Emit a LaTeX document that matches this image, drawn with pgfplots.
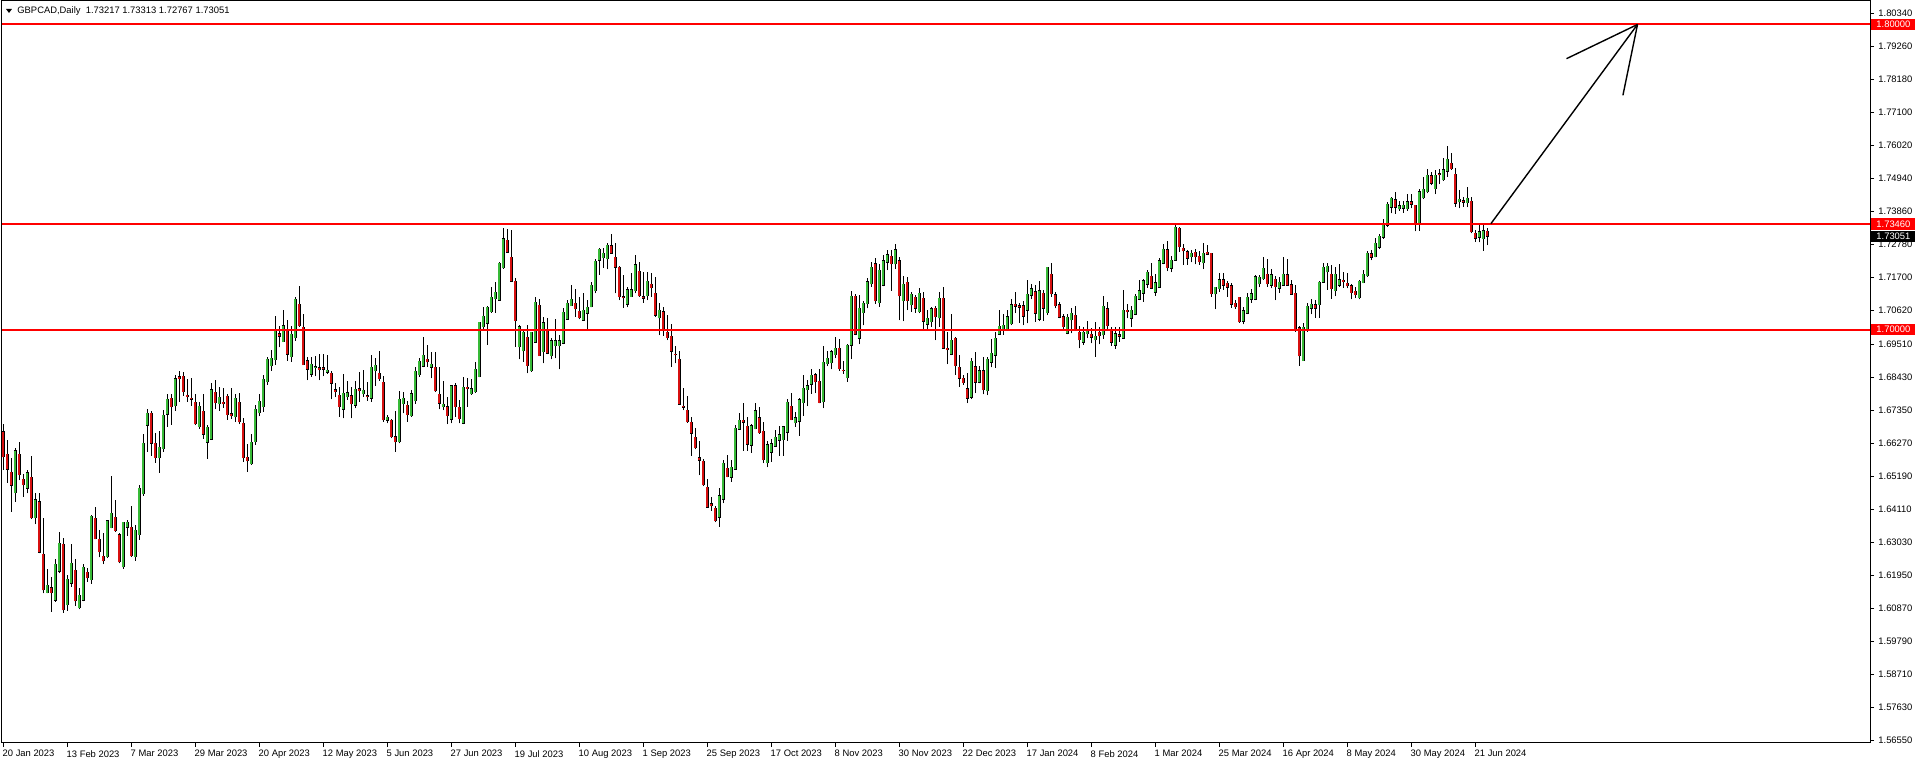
\documentclass[border=0pt]{standalone}
\usepackage{fontspec}
\setmainfont{Liberation Sans}
\usepackage{pgfplots}
\usepackage{pgfplotstable}
\pgfplotsset{compat=1.18}

\definecolor{upg}{RGB}{56,186,56}
\definecolor{dnr}{RGB}{215,16,16}
\newcommand\mtf{\fontsize{4.7}{5.5}\selectfont}
\pgfplotsset{nomark/.style={only marks, mark=none, mark size=0pt, mark options={draw=none, fill=none}}}

% daily candles, GBPCAD, index 0 = 20 Jan 2023
\pgfplotstableread{
i o h l c
0 1.6666 1.6691 1.6541 1.6584
1 1.6593 1.6639 1.6499 1.6543
2 1.6534 1.6579 1.6404 1.6491
3 1.6467 1.6612 1.6437 1.6603
4 1.6593 1.6631 1.6508 1.6526
5 1.6511 1.6528 1.6454 1.6493
6 1.6481 1.6541 1.6464 1.6531
7 1.6517 1.6587 1.6380 1.6384
8 1.6385 1.6464 1.6364 1.6443
9 1.6436 1.6464 1.6268 1.6272
10 1.6265 1.6383 1.6137 1.6148
11 1.6139 1.6216 1.6137 1.6163
12 1.6156 1.6190 1.6077 1.6139
13 1.6115 1.6248 1.6110 1.6232
14 1.6210 1.6339 1.6203 1.6301
15 1.6298 1.6317 1.6074 1.6083
16 1.6100 1.6197 1.6080 1.6183
17 1.6170 1.6298 1.6159 1.6235
18 1.6212 1.6248 1.6096 1.6112
19 1.6090 1.6154 1.6085 1.6131
20 1.6114 1.6233 1.6111 1.6222
21 1.6206 1.6219 1.6175 1.6188
22 1.6182 1.6394 1.6168 1.6389
23 1.6383 1.6419 1.6314 1.6315
24 1.6314 1.6344 1.6255 1.6274
25 1.6258 1.6334 1.6233 1.6243
26 1.6257 1.6377 1.6252 1.6374
27 1.6352 1.6521 1.6350 1.6399
28 1.6386 1.6443 1.6339 1.6342
29 1.6328 1.6336 1.6235 1.6240
30 1.6224 1.6372 1.6217 1.6369
31 1.6353 1.6377 1.6325 1.6369
32 1.6353 1.6423 1.6257 1.6260
33 1.6257 1.6361 1.6243 1.6344
34 1.6329 1.6492 1.6312 1.6481
35 1.6463 1.6657 1.6457 1.6628
36 1.6687 1.6740 1.6601 1.6726
37 1.6726 1.6734 1.6587 1.6628
38 1.6628 1.6661 1.6565 1.6581
39 1.6581 1.6668 1.6532 1.6615
40 1.6611 1.6737 1.6601 1.6720
41 1.6723 1.6788 1.6683 1.6772
42 1.6775 1.6788 1.6689 1.6748
43 1.6751 1.6852 1.6734 1.6839
44 1.6846 1.6865 1.6764 1.6840
45 1.6847 1.6860 1.6784 1.6797
46 1.6786 1.6839 1.6764 1.6781
47 1.6776 1.6842 1.6751 1.6772
48 1.6762 1.6788 1.6688 1.6692
49 1.6683 1.6763 1.6676 1.6749
50 1.6733 1.6788 1.6643 1.6658
51 1.6631 1.6689 1.6577 1.6680
52 1.6642 1.6827 1.6639 1.6803
53 1.6795 1.6835 1.6740 1.6761
54 1.6758 1.6813 1.6735 1.6779
55 1.6763 1.6809 1.6744 1.6758
56 1.6782 1.6788 1.6706 1.6722
57 1.6724 1.6809 1.6709 1.6718
58 1.6715 1.6788 1.6698 1.6775
59 1.6762 1.6793 1.6691 1.6698
60 1.6694 1.6710 1.6568 1.6581
61 1.6583 1.6626 1.6535 1.6571
62 1.6562 1.6659 1.6558 1.6631
63 1.6634 1.6752 1.6623 1.6739
64 1.6728 1.6788 1.6717 1.6766
65 1.6748 1.6851 1.6731 1.6838
66 1.6830 1.6911 1.6819 1.6903
67 1.6882 1.6934 1.6865 1.6906
68 1.6902 1.7045 1.6886 1.6997
69 1.6986 1.7012 1.6942 1.6979
70 1.6961 1.7063 1.6961 1.7013
71 1.6997 1.7031 1.6899 1.6919
72 1.6912 1.7011 1.6895 1.6985
73 1.6974 1.7107 1.6963 1.7099
74 1.7083 1.7143 1.7010 1.7013
75 1.7008 1.7051 1.6885 1.6886
76 1.6898 1.6910 1.6835 1.6870
77 1.6854 1.6910 1.6846 1.6887
78 1.6876 1.6914 1.6848 1.6878
79 1.6875 1.6920 1.6835 1.6869
80 1.6875 1.6919 1.6848 1.6871
81 1.6860 1.6917 1.6855 1.6868
82 1.6857 1.6865 1.6772 1.6824
83 1.6803 1.6824 1.6779 1.6797
84 1.6785 1.6811 1.6715 1.6748
85 1.6739 1.6855 1.6710 1.6792
86 1.6781 1.6831 1.6770 1.6793
87 1.6783 1.6814 1.6710 1.6757
88 1.6752 1.6832 1.6743 1.6805
89 1.6806 1.6862 1.6764 1.6800
90 1.6791 1.6869 1.6780 1.6802
91 1.6783 1.6830 1.6767 1.6781
92 1.6775 1.6917 1.6764 1.6877
93 1.6866 1.6906 1.6817 1.6883
94 1.6857 1.6930 1.6833 1.6840
95 1.6828 1.6848 1.6699 1.6705
96 1.6703 1.6720 1.6693 1.6714
97 1.6703 1.6709 1.6644 1.6650
98 1.6650 1.6733 1.6601 1.6633
99 1.6633 1.6799 1.6628 1.6772
100 1.6758 1.6797 1.6726 1.6776
101 1.6753 1.6767 1.6699 1.6722
102 1.6719 1.6801 1.6715 1.6790
103 1.6768 1.6877 1.6757 1.6864
104 1.6853 1.6908 1.6846 1.6897
105 1.6881 1.6976 1.6877 1.6916
106 1.6904 1.6949 1.6879 1.6895
107 1.6877 1.6926 1.6841 1.6887
108 1.6877 1.6928 1.6797 1.6800
109 1.6788 1.6877 1.6739 1.6759
110 1.6748 1.6832 1.6737 1.6756
111 1.6747 1.6781 1.6691 1.6719
112 1.6707 1.6819 1.6693 1.6816
113 1.6816 1.6824 1.6715 1.6748
114 1.6746 1.6770 1.6693 1.6708
115 1.6693 1.6846 1.6691 1.6811
116 1.6811 1.6841 1.6748 1.6807
117 1.6791 1.6837 1.6787 1.6806
118 1.6797 1.6895 1.6794 1.6870
119 1.6846 1.7026 1.6844 1.7025
120 1.7010 1.7073 1.6997 1.7044
121 1.7021 1.7078 1.6950 1.7073
122 1.7059 1.7141 1.7056 1.7106
123 1.7102 1.7157 1.7056 1.7123
124 1.7097 1.7223 1.7095 1.7217
125 1.7203 1.7332 1.7199 1.7297
126 1.7292 1.7328 1.7252 1.7253
127 1.7237 1.7326 1.7157 1.7159
128 1.7158 1.7169 1.6944 1.7030
129 1.6944 1.7014 1.6903 1.7010
130 1.6931 1.7003 1.6895 1.6991
131 1.6976 1.7014 1.6857 1.6882
132 1.6866 1.6994 1.6863 1.6991
133 1.6959 1.7106 1.6958 1.7090
134 1.7080 1.7102 1.6914 1.6915
135 1.6928 1.7042 1.6890 1.7023
136 1.6996 1.7039 1.6920 1.6923
137 1.6915 1.6972 1.6903 1.6964
138 1.6948 1.7034 1.6906 1.6964
139 1.6948 1.6982 1.6870 1.6964
140 1.6955 1.7070 1.6953 1.7057
141 1.7034 1.7097 1.7032 1.7086
142 1.7079 1.7145 1.7078 1.7100
143 1.7086 1.7133 1.7043 1.7068
144 1.7061 1.7106 1.7034 1.7039
145 1.7031 1.7121 1.7030 1.7064
146 1.7054 1.7097 1.6999 1.7073
147 1.7075 1.7156 1.7073 1.7145
148 1.7128 1.7231 1.7119 1.7224
149 1.7228 1.7266 1.7179 1.7263
150 1.7236 1.7266 1.7203 1.7250
151 1.7232 1.7283 1.7198 1.7276
152 1.7274 1.7312 1.7248 1.7250
153 1.7237 1.7285 1.7119 1.7204
154 1.7204 1.7208 1.7097 1.7108
155 1.7108 1.7179 1.7072 1.7105
156 1.7083 1.7141 1.7073 1.7130
157 1.7108 1.7187 1.7108 1.7130
158 1.7128 1.7244 1.7119 1.7212
159 1.7192 1.7222 1.7108 1.7111
160 1.7108 1.7188 1.7088 1.7103
161 1.7111 1.7188 1.7097 1.7159
162 1.7148 1.7187 1.7108 1.7138
163 1.7119 1.7172 1.7043 1.7047
164 1.7039 1.7088 1.6982 1.7064
165 1.7058 1.7075 1.6980 1.6999
166 1.6991 1.7048 1.6966 1.6974
167 1.6979 1.7019 1.6879 1.6929
168 1.6920 1.6947 1.6890 1.6918
169 1.6904 1.6931 1.6754 1.6756
170 1.6750 1.6809 1.6737 1.6746
171 1.6736 1.6783 1.6696 1.6699
172 1.6697 1.6713 1.6587 1.6661
173 1.6648 1.6677 1.6608 1.6614
174 1.6580 1.6636 1.6524 1.6572
175 1.6570 1.6576 1.6488 1.6493
176 1.6485 1.6512 1.6418 1.6419
177 1.6430 1.6451 1.6408 1.6423
178 1.6416 1.6423 1.6370 1.6375
179 1.6386 1.6483 1.6355 1.6456
180 1.6445 1.6574 1.6432 1.6563
181 1.6547 1.6589 1.6517 1.6519
182 1.6517 1.6574 1.6502 1.6550
183 1.6543 1.6688 1.6541 1.6678
184 1.6674 1.6728 1.6672 1.6703
185 1.6704 1.6760 1.6604 1.6697
186 1.6684 1.6715 1.6604 1.6625
187 1.6622 1.6691 1.6598 1.6686
188 1.6676 1.6759 1.6674 1.6734
189 1.6711 1.6747 1.6660 1.6663
190 1.6668 1.6697 1.6563 1.6575
191 1.6565 1.6637 1.6550 1.6623
192 1.6599 1.6641 1.6567 1.6626
193 1.6618 1.6673 1.6617 1.6648
194 1.6638 1.6685 1.6588 1.6656
195 1.6640 1.6686 1.6588 1.6682
196 1.6664 1.6773 1.6637 1.6763
197 1.6750 1.6794 1.6704 1.6706
198 1.6696 1.6730 1.6683 1.6711
199 1.6700 1.6775 1.6653 1.6770
200 1.6761 1.6852 1.6718 1.6809
201 1.6804 1.6835 1.6750 1.6816
202 1.6821 1.6870 1.6790 1.6851
203 1.6852 1.6857 1.6792 1.6829
204 1.6831 1.6870 1.6759 1.6761
205 1.6764 1.6945 1.6743 1.6894
206 1.6889 1.6929 1.6881 1.6907
207 1.6892 1.6934 1.6870 1.6927
208 1.6918 1.6975 1.6907 1.6939
209 1.6939 1.6968 1.6866 1.6872
210 1.6868 1.6899 1.6855 1.6866
211 1.6843 1.6952 1.6830 1.6949
212 1.6949 1.7128 1.6904 1.7109
213 1.7110 1.7117 1.6982 1.6985
214 1.6972 1.7114 1.6953 1.7070
215 1.7056 1.7095 1.7014 1.7086
216 1.7085 1.7170 1.7070 1.7157
217 1.7150 1.7222 1.7140 1.7205
218 1.7215 1.7235 1.7085 1.7095
219 1.7088 1.7215 1.7075 1.7195
220 1.7146 1.7245 1.7142 1.7225
221 1.7220 1.7262 1.7195 1.7245
222 1.7240 1.7260 1.7127 1.7215
223 1.7215 1.7282 1.7200 1.7262
224 1.7225 1.7239 1.7031 1.7111
225 1.7095 1.7177 1.7028 1.7148
226 1.7155 1.7174 1.7064 1.7095
227 1.7081 1.7124 1.7059 1.7116
228 1.7106 1.7114 1.7056 1.7070
229 1.7059 1.7138 1.7054 1.7119
230 1.7103 1.7124 1.7000 1.7028
231 1.7018 1.7064 1.7001 1.7037
232 1.7026 1.7075 1.7010 1.7068
233 1.7070 1.7077 1.6966 1.7043
234 1.7039 1.7124 1.7010 1.7103
235 1.7103 1.7141 1.6939 1.6939
236 1.6939 1.6991 1.6887 1.6935
237 1.6920 1.7050 1.6917 1.6965
238 1.6972 1.6977 1.6852 1.6882
239 1.6877 1.6917 1.6814 1.6841
240 1.6841 1.6852 1.6819 1.6827
241 1.6806 1.6857 1.6760 1.6775
242 1.6779 1.6906 1.6773 1.6896
243 1.6879 1.6926 1.6792 1.6828
244 1.6828 1.6882 1.6824 1.6865
245 1.6865 1.6910 1.6788 1.6804
246 1.6800 1.6911 1.6786 1.6904
247 1.6893 1.6968 1.6877 1.6923
248 1.6917 1.6994 1.6876 1.6972
249 1.6985 1.7064 1.6983 1.7011
250 1.6999 1.7050 1.6983 1.7015
251 1.7000 1.7064 1.6996 1.7042
252 1.7019 1.7100 1.7015 1.7081
253 1.7083 1.7122 1.7054 1.7077
254 1.7079 1.7086 1.7022 1.7074
255 1.7078 1.7094 1.7015 1.7044
256 1.7064 1.7163 1.7021 1.7116
257 1.7112 1.7148 1.7100 1.7134
258 1.7124 1.7146 1.7026 1.7054
259 1.7034 1.7159 1.7028 1.7127
260 1.7119 1.7130 1.7030 1.7070
261 1.7056 1.7206 1.7048 1.7204
262 1.7181 1.7217 1.7108 1.7117
263 1.7114 1.7122 1.7070 1.7079
264 1.7081 1.7090 1.7037 1.7040
265 1.7043 1.7051 1.6999 1.7010
266 1.6988 1.7051 1.6985 1.7040
267 1.7032 1.7070 1.6988 1.7054
268 1.7048 1.7079 1.6996 1.7000
269 1.6992 1.7012 1.6939 1.6967
270 1.6959 1.7010 1.6950 1.6992
271 1.6987 1.7028 1.6972 1.6996
272 1.6985 1.7004 1.6955 1.6975
273 1.6967 1.7024 1.6912 1.6978
274 1.6992 1.7010 1.6952 1.6980
275 1.6983 1.7110 1.6970 1.7076
276 1.7068 1.7090 1.6996 1.7013
277 1.7000 1.7010 1.6947 1.6959
278 1.6949 1.7010 1.6937 1.6987
279 1.6983 1.7010 1.6961 1.6978
280 1.6972 1.7130 1.6970 1.7063
281 1.7063 1.7083 1.7037 1.7059
282 1.7037 1.7079 1.7008 1.7063
283 1.7050 1.7116 1.7048 1.7109
284 1.7100 1.7163 1.7097 1.7128
285 1.7119 1.7166 1.7092 1.7160
286 1.7148 1.7195 1.7138 1.7188
287 1.7175 1.7217 1.7133 1.7135
288 1.7122 1.7181 1.7111 1.7153
289 1.7139 1.7236 1.7138 1.7225
290 1.7217 1.7279 1.7214 1.7264
291 1.7261 1.7290 1.7192 1.7203
292 1.7201 1.7242 1.7188 1.7228
293 1.7228 1.7343 1.7225 1.7335
294 1.7332 1.7335 1.7255 1.7272
295 1.7266 1.7279 1.7212 1.7258
296 1.7255 1.7262 1.7212 1.7234
297 1.7239 1.7262 1.7220 1.7250
298 1.7253 1.7264 1.7214 1.7239
299 1.7240 1.7258 1.7212 1.7223
300 1.7219 1.7285 1.7198 1.7250
301 1.7253 1.7277 1.7244 1.7247
302 1.7250 1.7250 1.7108 1.7118
303 1.7117 1.7141 1.7067 1.7139
304 1.7134 1.7184 1.7124 1.7163
305 1.7163 1.7184 1.7130 1.7145
306 1.7152 1.7159 1.7108 1.7139
307 1.7143 1.7152 1.7071 1.7083
308 1.7086 1.7097 1.7069 1.7075
309 1.7106 1.7108 1.7023 1.7026
310 1.7028 1.7075 1.7017 1.7062
311 1.7054 1.7119 1.7051 1.7106
312 1.7099 1.7132 1.7088 1.7117
313 1.7099 1.7179 1.7097 1.7174
314 1.7150 1.7179 1.7139 1.7171
315 1.7166 1.7237 1.7163 1.7201
316 1.7182 1.7230 1.7141 1.7150
317 1.7146 1.7198 1.7135 1.7179
318 1.7165 1.7176 1.7097 1.7141
319 1.7135 1.7174 1.7121 1.7156
320 1.7146 1.7237 1.7145 1.7182
321 1.7179 1.7230 1.7145 1.7146
322 1.7147 1.7163 1.7114 1.7116
323 1.7119 1.7145 1.6994 1.6999
324 1.7007 1.7012 1.6882 1.6914
325 1.6899 1.7023 1.6899 1.7008
326 1.6997 1.7086 1.6994 1.7077
327 1.7070 1.7102 1.7051 1.7084
328 1.7082 1.7097 1.7039 1.7070
329 1.7082 1.7160 1.7039 1.7156
330 1.7155 1.7217 1.7154 1.7204
331 1.7189 1.7219 1.7130 1.7208
332 1.7182 1.7212 1.7102 1.7134
333 1.7128 1.7206 1.7110 1.7182
334 1.7145 1.7214 1.7141 1.7163
335 1.7162 1.7190 1.7138 1.7157
336 1.7152 1.7187 1.7135 1.7143
337 1.7144 1.7150 1.7099 1.7121
338 1.7125 1.7141 1.7103 1.7115
339 1.7104 1.7163 1.7099 1.7158
340 1.7154 1.7196 1.7152 1.7182
341 1.7177 1.7259 1.7174 1.7250
342 1.7248 1.7261 1.7228 1.7237
343 1.7239 1.7301 1.7237 1.7283
344 1.7269 1.7313 1.7264 1.7305
345 1.7302 1.7363 1.7298 1.7348
346 1.7341 1.7418 1.7337 1.7411
347 1.7401 1.7433 1.7381 1.7430
348 1.7425 1.7450 1.7379 1.7401
349 1.7395 1.7422 1.7390 1.7405
350 1.7398 1.7422 1.7383 1.7407
351 1.7396 1.7444 1.7390 1.7418
352 1.7418 1.7444 1.7397 1.7410
353 1.7407 1.7407 1.7322 1.7350
354 1.7350 1.7462 1.7324 1.7451
355 1.7432 1.7501 1.7427 1.7459
356 1.7452 1.7525 1.7446 1.7505
357 1.7503 1.7517 1.7473 1.7479
358 1.7462 1.7523 1.7444 1.7506
359 1.7510 1.7525 1.7476 1.7507
360 1.7490 1.7561 1.7488 1.7523
361 1.7519 1.7601 1.7501 1.7558
362 1.7545 1.7577 1.7523 1.7526
363 1.7509 1.7528 1.7403 1.7414
364 1.7418 1.7457 1.7397 1.7427
365 1.7422 1.7435 1.7403 1.7417
366 1.7416 1.7468 1.7401 1.7430
367 1.7420 1.7433 1.7315 1.7320
368 1.7315 1.7326 1.7288 1.7300
369 1.7302 1.7343 1.7286 1.7320
370 1.7298 1.7346 1.7259 1.7324
371 1.73217 1.73313 1.72767 1.73051
}\candles

\begin{document}
\begin{tikzpicture}
\begin{axis}[
    at={(0,0)}, anchor=south west,
    scale only axis,
    width=934pt, height=371pt,
    xmin=-0.325, xmax=466.675,
    ymin=1.56473, ymax=1.80758,
    axis line style={line width=0.5pt},
    tick align=outside,
    major tick length=2pt,
    every tick/.style={black, line width=0.5pt},
    xtick pos=left,
    ytick pos=right,
    yticklabel pos=right,
    xtick={0,16,...,368},
    xticklabels={20 Jan 2023,13 Feb 2023,7 Mar 2023,29 Mar 2023,20 Apr 2023,12 May 2023,5 Jun 2023,27 Jun 2023,19 Jul 2023,10 Aug 2023,1 Sep 2023,25 Sep 2023,17 Oct 2023,8 Nov 2023,30 Nov 2023,22 Dec 2023,17 Jan 2024,8 Feb 2024,1 Mar 2024,25 Mar 2024,16 Apr 2024,8 May 2024,30 May 2024,21 Jun 2024},
    ytick={1.5655,1.5763,1.5871,1.5979,1.6087,1.6195,1.6303,1.6411,1.6519,1.6627,1.6735,1.6843,1.6951,1.7062,1.7170,1.7278,1.7386,1.7494,1.7602,1.7710,1.7818,1.7926,1.8034},
    yticklabels={1.56550,1.57630,1.58710,1.59790,1.60870,1.61950,1.63030,1.64110,1.65190,1.66270,1.67350,1.68430,1.69510,1.70620,1.71700,1.72780,1.73860,1.74940,1.76020,1.77100,1.78180,1.79260,1.80340},
    xticklabel style={font=\mtf, anchor=north west, inner sep=0pt, xshift=-0.5pt, yshift=-1.5pt},
    yticklabel style={font=\mtf, anchor=west, inner sep=0pt, xshift=2pt},
]
% wicks
\addplot[black, nomark, forget plot,
    error bars/.cd, y dir=plus, y explicit, error mark=none,
    error bar style={line width=0.5pt, solid, black}]
    table[x=i, y=l, y error expr=\thisrow{h}-\thisrow{l}] {\candles};
% body outline
\addplot[black, nomark, forget plot,
    error bars/.cd, y dir=plus, y explicit, error mark=none,
    error bar style={line width=1.6pt, solid, black}]
    table[x=i, y expr={min(\thisrow{o},\thisrow{c})-0.00016},
          y error expr={abs(\thisrow{c}-\thisrow{o})+0.00033}] {\candles};
% bull bodies
\addplot[upg, nomark, forget plot, restrict y to domain=1:2,
    error bars/.cd, y dir=plus, y explicit, error mark=none,
    error bar style={line width=0.9pt, solid, upg}]
    table[x=i, y expr={\thisrow{c}>=\thisrow{o} ? \thisrow{o} : -1},
          y error expr={\thisrow{c}-\thisrow{o}}] {\candles};
% bear bodies
\addplot[dnr, nomark, forget plot, restrict y to domain=1:2,
    error bars/.cd, y dir=plus, y explicit, error mark=none,
    error bar style={line width=0.9pt, solid, dnr}]
    table[x=i, y expr={\thisrow{c}<\thisrow{o} ? \thisrow{c} : -1},
          y error expr={\thisrow{o}-\thisrow{c}}] {\candles};

% levels
\addplot[red, line width=1pt, forget plot] coordinates {(-0.325,1.80) (466.675,1.80)};
\addplot[red, line width=1pt, forget plot] coordinates {(-0.325,1.7346) (466.675,1.7346)};
\addplot[red, line width=1pt, forget plot] coordinates {(-0.325,1.70) (466.675,1.70)};

% projection arrow
\draw[black, line width=0.7pt] (axis cs:371.9,1.7347) -- (axis cs:408.55,1.7999);
\draw[black, line width=0.7pt] (axis cs:408.55,1.7999) -- (axis cs:390.8,1.7887);
\draw[black, line width=0.7pt] (axis cs:408.55,1.7999) -- (axis cs:404.9,1.7767);

\coordinate (p1) at (axis cs:466.675,1.80);
\coordinate (p2) at (axis cs:466.675,1.7346);
\coordinate (p3) at (axis cs:466.675,1.70);
\coordinate (p4) at (axis cs:466.675,1.73051);
\end{axis}

\tikzset{lbl/.style={anchor=west, inner sep=0pt, minimum width=22pt, minimum height=5.6pt, text=white, font=\mtf}}
\node[lbl, fill=red] at ([xshift=0.5pt]p1) {1.80000};
\node[lbl, fill=red] at ([xshift=0.5pt]p2) {1.73460};
\node[lbl, fill=red] at ([xshift=0.5pt]p3) {1.70000};
\node[lbl, fill=black] at ([xshift=0.5pt]p4) {1.73051};

% header
\fill[black] (2pt,367pt) -- (5pt,367pt) -- (3.5pt,365pt) -- cycle;
\node[anchor=west, inner sep=0pt, font=\mtf] at (7.5pt,366pt) {GBPCAD,Daily\ \ 1.73217 1.73313 1.72767 1.73051};

\pgfresetboundingbox
\path[use as bounding box] (-1pt,-10.5pt) rectangle (957pt,371.5pt);
\end{tikzpicture}
\end{document}
